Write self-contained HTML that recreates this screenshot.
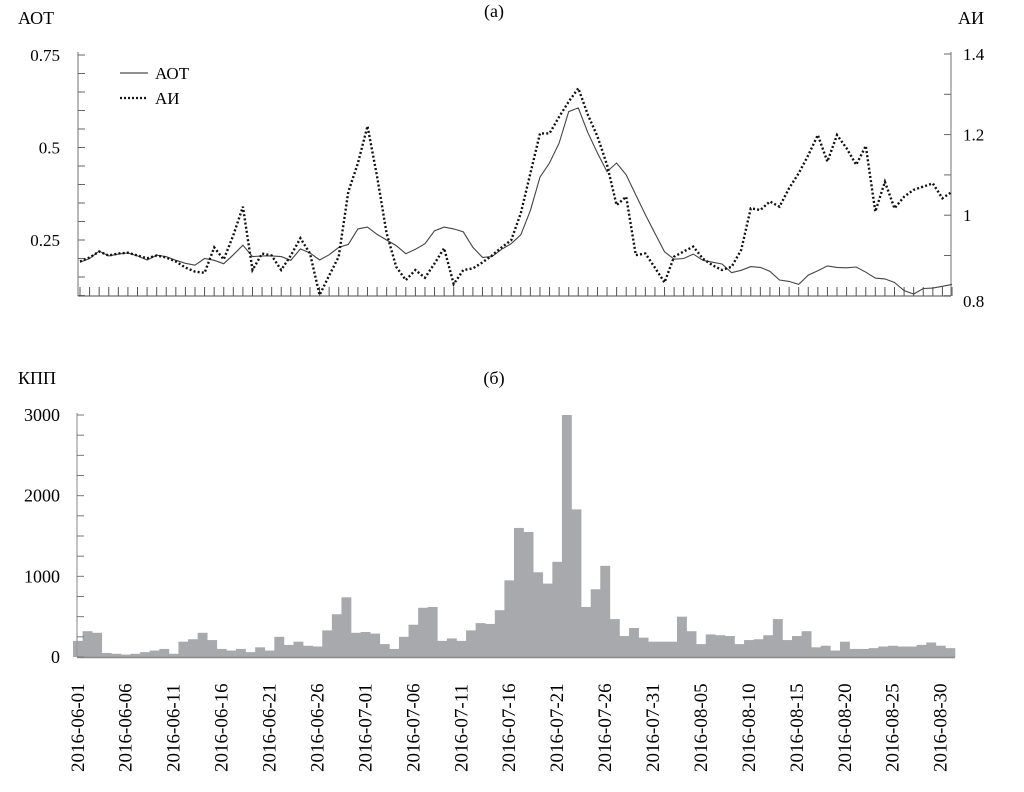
<!DOCTYPE html>
<html><head><meta charset="utf-8"><style>
html,body{margin:0;padding:0;background:#fff;}
svg, svg text{font-family:"Liberation Serif","Times New Roman",serif;}
svg{display:block;}
</style></head><body>
<svg id="chart" width="1024" height="792" viewBox="0 0 1024 792" xmlns="http://www.w3.org/2000/svg" font-family="Liberation Serif, serif">
<text x="494" y="17" font-size="18" text-anchor="middle">(a)</text>
<text x="18" y="24" font-size="18">АОТ</text>
<text x="958" y="24" font-size="18">АИ</text>
<text x="494" y="384" font-size="18" text-anchor="middle">(б)</text>
<text x="18" y="384" font-size="18">КПП</text>
<g id="topchart"></g>
<g id="botchart"></g>
<g>
<line x1="120" y1="73" x2="148" y2="73" stroke="#222" stroke-width="1"/>
<text x="155" y="79" font-size="17">АОТ</text>
<line x1="120" y1="98" x2="148" y2="98" stroke="#111" stroke-width="2.2" stroke-dasharray="2,2"/>
<text x="155" y="104" font-size="17">АИ</text>
</g>
</svg>
<script>
const aotValues=[0.19,0.2,0.22,0.207,0.212,0.215,0.207,0.196,0.209,0.205,0.195,0.187,0.182,0.2,0.195,0.186,0.21,0.236,0.205,0.207,0.207,0.205,0.195,0.226,0.215,0.196,0.21,0.23,0.238,0.28,0.285,0.265,0.25,0.235,0.213,0.225,0.24,0.275,0.285,0.28,0.272,0.23,0.203,0.205,0.225,0.24,0.264,0.33,0.42,0.458,0.512,0.597,0.607,0.54,0.485,0.435,0.458,0.426,0.372,0.318,0.268,0.218,0.198,0.2,0.212,0.195,0.19,0.185,0.162,0.168,0.178,0.176,0.165,0.142,0.138,0.13,0.155,0.167,0.18,0.176,0.175,0.177,0.163,0.147,0.145,0.135,0.113,0.104,0.119,0.12,0.125,0.13];
const aiValues=[0.885,0.895,0.91,0.9,0.905,0.907,0.9,0.893,0.9,0.895,0.885,0.87,0.86,0.857,0.92,0.89,0.95,1.021,0.864,0.905,0.9,0.864,0.9,0.943,0.905,0.802,0.85,0.897,1.058,1.129,1.221,1.096,0.955,0.872,0.839,0.864,0.845,0.88,0.918,0.829,0.864,0.868,0.883,0.9,0.92,0.938,1.005,1.104,1.203,1.203,1.244,1.282,1.315,1.249,1.195,1.125,1.025,1.046,0.901,0.905,0.87,0.833,0.897,0.91,0.922,0.892,0.876,0.864,0.872,0.914,1.017,1.013,1.034,1.021,1.067,1.104,1.149,1.199,1.133,1.199,1.166,1.125,1.172,1.009,1.083,1.017,1.046,1.063,1.071,1.079,1.042,1.058];
const kppValues=[200,320,300,50,40,30,40,60,80,100,40,190,220,300,210,100,80,100,60,120,80,250,150,190,140,130,330,530,740,300,310,290,160,100,250,400,610,620,200,230,200,330,420,410,580,950,1600,1550,1050,910,1180,3000,1830,620,840,1130,470,260,360,240,190,190,190,500,320,160,280,270,260,160,210,220,270,470,210,260,320,120,140,80,190,100,100,110,130,140,130,130,150,180,140,110];
const leftTicks=[0.25,0.5,0.75];
const rightTicks=[0.8,1,1.2,1.4];
const kppTicks=[0,1000,2000,3000];
const dateLabels=["2016-06-01","2016-06-06","2016-06-11","2016-06-16","2016-06-21","2016-06-26","2016-07-01","2016-07-06","2016-07-11","2016-07-16","2016-07-21","2016-07-26","2016-07-31","2016-08-05","2016-08-10","2016-08-15","2016-08-20","2016-08-25","2016-08-30"];

const NS="http://www.w3.org/2000/svg";
function mk(parent,tag,attrs,txt){const e=document.createElementNS(NS,tag);for(const k in attrs)e.setAttribute(k,attrs[k]);if(txt!==undefined)e.textContent=txt;parent.appendChild(e);return e;}
const topG=document.getElementById('topchart'), botG=document.getElementById('botchart');
const N=aotValues.length;
const xT=i=>80+i*(872/(N-1));
const yL=v=>55+(0.75-v)*370;
const yR=v=>54+(1.4-v)*403;
const baseT=296;
let el;
el=mk(topG,'line',{x1:78,y1:52,x2:78,y2:baseT,stroke:'#888','stroke-width':1.2});


el=mk(topG,'line',{x1:951,y1:52,x2:951,y2:baseT,stroke:'#888','stroke-width':1.2});


el=mk(topG,'line',{x1:78,y1:baseT,x2:951,y2:baseT,stroke:'#888','stroke-width':1.5});


for(let v=0.1;v<=0.76;v+=0.05){mk(topG,'line',{x1:78,y1:yL(v),x2:85,y2:yL(v),stroke:'#666'});}
for(let v=0.8;v<=1.41;v+=0.1){mk(topG,'line',{x1:944,y1:yR(v),x2:951,y2:yR(v),stroke:'#666'});}
for(let i=0;i<N;i++){mk(topG,'line',{x1:xT(i),y1:baseT,x2:xT(i),y2:baseT-9,stroke:'#555','stroke-width':1});}
leftTicks.forEach(v=>{const t=mk(topG,'text',{x:60,y:yL(v)+6,'font-size':17,'text-anchor':'end'},String(v));

});
rightTicks.forEach(v=>{const t=mk(topG,'text',{x:963,y:(v===0.8?yR(v)+11:yR(v)+6),'font-size':17},String(v));

});
let d1=aotValues.map((v,i)=>(i?'L':'M')+xT(i).toFixed(1)+','+yL(v).toFixed(1)).join('');
el=mk(topG,'path',{d:d1,fill:'none',stroke:'#444','stroke-width':1.1});


let d2=aiValues.map((v,i)=>(i?'L':'M')+xT(i).toFixed(1)+','+yR(v).toFixed(1)).join('');
el=mk(topG,'path',{d:d2,fill:'none',stroke:'#111','stroke-width':2.4,'stroke-dasharray':'2,2.2'});


const bw=882/N, x0=73;
const yB=v=>657-v*(242/3000);
for(let i=0;i<N;i++){const v=kppValues[i];
const r=mk(botG,'rect',{x:(x0+i*bw).toFixed(2),y:yB(v).toFixed(2),width:(bw+0.3).toFixed(2),height:(657-yB(v)).toFixed(2),fill:'#a8a9ad'});

}
el=mk(botG,'line',{x1:77,y1:413,x2:77,y2:657,stroke:'#999','stroke-width':1.2});


el=mk(botG,'line',{x1:77,y1:657.5,x2:955,y2:657.5,stroke:'#888','stroke-width':1.5});


for(let v=0;v<=3000;v+=250){mk(botG,'line',{x1:77,y1:yB(v),x2:84,y2:yB(v),stroke:'#777'});}
kppTicks.forEach(v=>{const t=mk(botG,'text',{x:60,y:yB(v)+6,'font-size':18,'text-anchor':'end'},String(v));

});
dateLabels.forEach((s,k)=>{const cx=x0+(k*5+0.5)*bw+6;
const t=mk(botG,'text',{x:0,y:0,'font-size':19,transform:`translate(${cx.toFixed(1)},772) rotate(-90)`},s);

});
</script>
</body></html>
